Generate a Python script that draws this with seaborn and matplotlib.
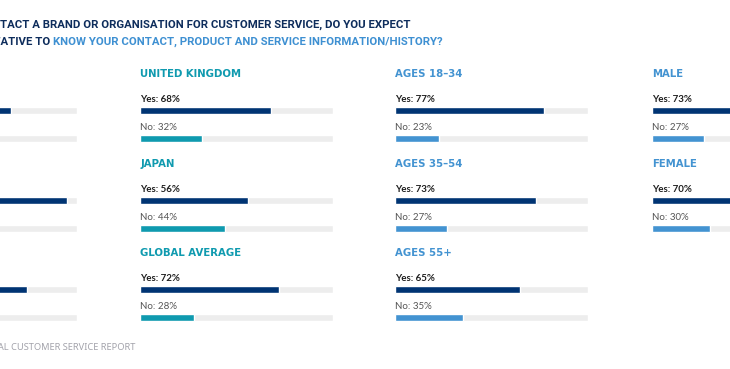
import matplotlib
matplotlib.use("Agg")
import matplotlib.pyplot as plt
import seaborn as sns

# ----------- DATA -------------
# left column is cut off in the reference; labels guessed, values read from bar ends
groups = ["UNITED STATES", "BRAZIL", "GERMANY",
          "UNITED KINGDOM", "JAPAN", "GLOBAL AVERAGE",
          "AGES 18\u201334", "AGES 35\u201354", "AGES 55+",
          "MALE", "FEMALE"]
yes_pct = [66, 95, 74, 68, 56, 72, 77, 73, 65, 73, 70]
no_pct = [34, 5, 26, 32, 44, 28, 23, 27, 35, 27, 30]
kind = ["country"] * 6 + ["demo"] * 5
answers = ["Yes", "No"]

# ----------- STYLE SETTINGS -------------
NAVY = "#003473"
TEAL = "#0F9AAF"
BLUE = "#4393D1"
TRACK = "#EDEDED"
TITLE_DARK = "#0E2D5C"

sns.set_style("white")
plt.rcParams["font.family"] = ["Lato", "DejaVu Sans"]

W, H = 730, 369
fig = plt.figure(figsize=(W / 100, H / 100), dpi=100)
fig.patch.set_facecolor("white")

# layout in pixels: column track starts, row yes-bar centres
col_x = [-116, 140, 395, 652]
row_y = [110.5, 200.5, 289.5]
track_w = 193
slot = [(0, 0), (0, 1), (0, 2), (1, 0), (1, 1), (1, 2),
        (2, 0), (2, 1), (2, 2), (3, 0), (3, 1)]

for i, name in enumerate(groups):
    c, r = slot[i]
    x0 = col_x[c]
    yc = row_y[r]
    top = yc - 14
    ax = fig.add_axes([x0 / W, 1 - (top + 56) / H, track_w / W, 56 / H])
    accent = TEAL if kind[i] == "country" else BLUE

    sns.barplot(x=[100, 100], y=answers, color=TRACK, width=0.25,
                orient="h", ax=ax, saturation=1)
    sns.barplot(x=[yes_pct[i], no_pct[i]], y=answers, hue=answers,
                palette=[NAVY, accent], width=0.25, orient="h", ax=ax,
                saturation=1, legend=False)
    ax.set_xlim(0, 100)
    ax.set_ylim(1.5, -0.5)
    ax.axis("off")

    ax.text(0, -1.30, name, fontsize=7.3, fontweight="bold", color=accent,
            va="center", ha="left", family="DejaVu Sans", clip_on=False)
    ax.text(0, -0.41, f"Yes: {yes_pct[i]}%", fontsize=7, fontweight="bold",
            color="#1E1E1E", va="center", ha="left", clip_on=False)
    ax.text(0, 0.59, f"No: {no_pct[i]}%", fontsize=7, color="#555555",
            va="center", ha="left", clip_on=False)

# Title + footer
title_font = ["Roboto", "DejaVu Sans"]
fig.text(410 / W, 1 - 25 / H,
         "WHEN YOU CONTACT A BRAND OR ORGANISATION FOR CUSTOMER SERVICE, DO YOU EXPECT",
         ha="right", va="center", fontsize=8.2, fontweight="bold",
         color=TITLE_DARK, family=title_font)
fig.text(50 / W, 1 - 42 / H, "THE REPRESENTATIVE TO",
         ha="right", va="center", fontsize=8.2, fontweight="bold",
         color=TITLE_DARK, family=title_font)
fig.text(53 / W, 1 - 42 / H,
         "KNOW YOUR CONTACT, PRODUCT AND SERVICE INFORMATION/HISTORY?",
         ha="left", va="center", fontsize=8.2, fontweight="bold",
         color="#3E90D2", family=title_font)
fig.text(135 / W, 1 - 347 / H, "MICROSOFT STATE OF GLOBAL CUSTOMER SERVICE REPORT",
         ha="right", va="center", fontsize=6.7, color="#A3A3AB",
         family=["Noto Sans", "DejaVu Sans"])

fig.savefig("out.png", dpi=100, facecolor="white")
